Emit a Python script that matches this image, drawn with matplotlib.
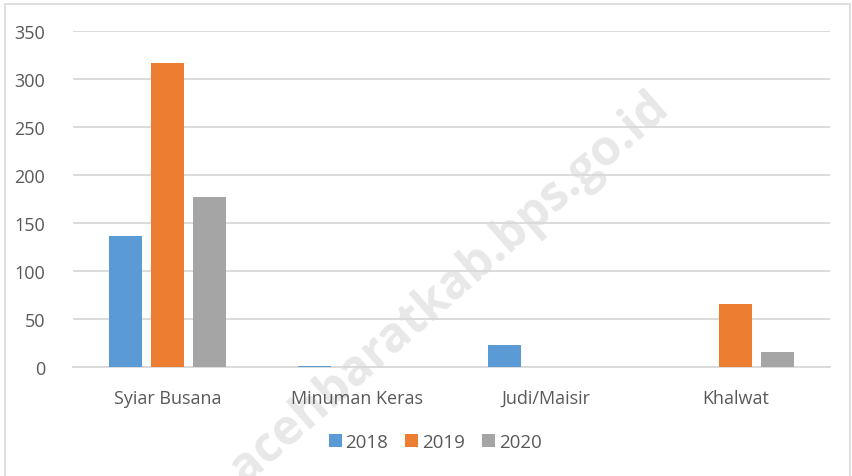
import matplotlib.pyplot as plt
from matplotlib.patches import Rectangle
import numpy as np

categories = ["Syiar Busana", "Minuman Keras", "Judi/Maisir", "Khalwat"]
years = ["2018", "2019", "2020"]
v2018 = [136, 1, 23, 0]
v2019 = [317, 0, 0, 66]
v2020 = [177, 0, 0, 16]
yticks = [0, 50, 100, 150, 200, 250, 300, 350]

colors = ["#5B9BD5", "#ED7D31", "#A5A5A5"]
plt.rcParams['font.family'] = ['Open Sans', 'DejaVu Sans']

fig = plt.figure(figsize=(8.53, 4.77), dpi=100, facecolor='white')
# bingkai luar chart
fig.patches.append(Rectangle((5/853, -0.1), 845/853, 1.1 - 5/477, transform=fig.transFigure,
                             fill=False, edgecolor='#d9d9d9', linewidth=1.2))

# watermark (di belakang semua)
fig.text(0.527, 0.396, "acehbaratkab.bps.go.id", fontsize=35, fontweight='bold',
         color='#e8e8e8', rotation=41.3, ha='center', va='center', zorder=-5)

ax = fig.add_axes([73/853, 1 - 368/477, 757/853, 336/477])
ax.patch.set_alpha(0)

x = np.arange(len(categories))
step = 0.222
width = 0.175
for i, (vals, year) in enumerate(zip([v2018, v2019, v2020], years)):
    ax.bar(x + (i - 1) * step, vals, width, color=colors[i], label=year, zorder=3)

ax.set_xlim(-0.5, len(categories) - 0.5)
ax.set_ylim(0, 350)
ax.set_yticks(yticks)
ax.set_xticks(x)
ax.set_xticklabels(categories)
ax.yaxis.grid(True, color='#d9d9d9', linewidth=1.3, zorder=0)
ax.set_axisbelow(True)
for s in ['top', 'right', 'left']:
    ax.spines[s].set_visible(False)
ax.spines['bottom'].set_color('#d9d9d9')
ax.spines['bottom'].set_linewidth(1.3)
ax.tick_params(axis='both', length=0, labelsize=13, labelcolor='#595959')
ax.tick_params(axis='y', pad=20)
ax.tick_params(axis='x', pad=16)

leg = ax.legend(loc='center', bbox_to_anchor=(435/853, 1 - 443/477), bbox_transform=fig.transFigure,
                ncol=3, frameon=False, fontsize=13.5, handlelength=0.7, handleheight=0.7,
                handletextpad=0.2, columnspacing=0.9)
for t in leg.get_texts():
    t.set_color('#595959')

fig.savefig("out.png", dpi=100, facecolor='white')
